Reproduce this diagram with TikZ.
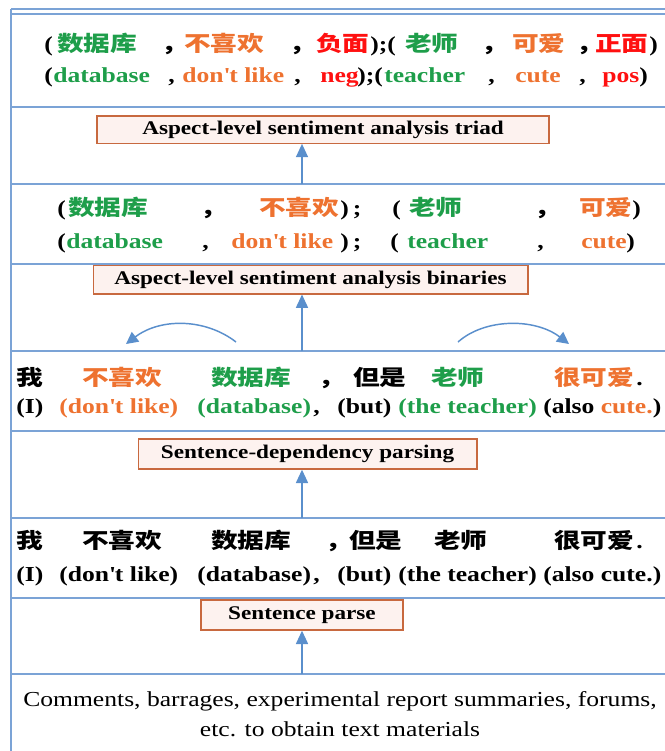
\documentclass[tikz,border=0pt]{standalone}
\usepackage{fontspec}
\setmainfont{Liberation Serif}[FakeStretch=1.2]
\newfontfamily\cjk{Noto Sans CJK SC}[FakeStretch=1.25]
\usetikzlibrary{arrows.meta}
\definecolor{gr}{HTML}{1E9E4A}
\definecolor{og}{HTML}{EE7230}
\definecolor{rd}{HTML}{FF1010}
\definecolor{ln}{HTML}{7BA3D6}
\definecolor{ar}{HTML}{5A8FCC}
\definecolor{bx}{HTML}{C8693F}
\definecolor{bxf}{HTML}{FDF2EF}
\newcommand\zh[1]{{\cjk\bfseries #1}}
\newcommand\dl{don\textquotesingle t like}
\begin{document}
\begin{tikzpicture}[x=0.75pt,y=-0.75pt,
  tx/.style={anchor=base west,inner sep=0pt,font=\fontsize{16}{18}\selectfont\bfseries},
  sep/.style={draw=ln,line width=1.3pt},
  lbl/.style={draw=bx,fill=bxf,line width=1pt,inner sep=0pt,font=\fontsize{14.5}{16}\selectfont\bfseries},
  arr/.style={draw=ar,line width=1.2pt,-{Triangle[length=10pt,width=9pt]}},
  carr/.style={draw=ar,line width=1.1pt,-{Triangle[length=9pt,width=9pt]}}]
\useasboundingbox (0,0) rectangle (665,751);
% frame
\draw[sep,line width=0.9pt] (11,9) -- (665,9);
\draw[sep] (11,14) -- (665,14);
\draw[sep] (11,9) -- (11,751);
\foreach \yy in {107,184,264,351,431,518,598,674} {\draw[sep] (11,\yy) -- (665,\yy);}
% boxes
\node[lbl,minimum width=339pt,minimum height=20.5pt] (tr) at (323,129.5) {Aspect-level sentiment analysis triad};
\node[lbl,minimum width=326pt,minimum height=21.5pt] (bi) at (310.5,279.5) {Aspect-level sentiment analysis binaries};
\node[lbl,minimum width=254pt,minimum height=22.5pt] (dp) at (307.5,454) {Sentence-dependency parsing};
\node[lbl,minimum width=151.5pt,minimum height=22.5pt] (sp) at (302,615) {Sentence parse};
% arrows
\coordinate (a1) at (302,184);
\coordinate (a2) at (302,351);
\coordinate (a3) at (302,518);
\coordinate (a4) at (302,674);
\draw[arr] (a1) -- (a1 |- tr.south);
\draw[arr] (a2) -- (a2 |- bi.south);
\draw[arr] (a3) -- (a3 |- dp.south);
\draw[arr] (a4) -- (a4 |- sp.south);
\coordinate (l1) at (236,342);
\coordinate (l2) at (126,344);
\coordinate (q1) at (458,342);
\coordinate (q2) at (569,344);
\draw[carr] (l1) .. controls (205,318) and (160,318) .. (l2);
\draw[carr] (q1) .. controls (485,318) and (535,318) .. (q2);
% row 1
\node[tx] (r1a) at (44,51) {(};
\node[tx,text=gr] (r1b) at (57,51) {\zh{数据库}};
\node[tx] (r1c) at (161,51) {\zh{，}};
\node[tx,text=og] (r1d) at (184,51) {\zh{不喜欢}};
\node[tx] (r1e) at (289,51) {\zh{，}};
\node[tx,text=rd] (r1f) at (316,51) {\zh{负面}};
\node[tx] (r1g) at (370,51) {);(};
\node[tx,text=gr] (r1h) at (405,51) {\zh{老师}};
\node[tx] (r1i) at (481,51) {\zh{，}};
\node[tx,text=og] (r1j) at (512,51) {\zh{可爱}};
\node[tx] (r1k) at (576,51) {\zh{，}};
\node[tx,text=rd] (r1l) at (595,51) {\zh{正面}};
\node[tx] (r1m) at (649,51) {)};
\node[tx] (r2a) at (44,82) {(};
\node[tx,text=gr] (r2b) at (53,82) {database};
\node[tx] (r2c) at (168,82) {,};
\node[tx,text=og] (r2d) at (182,82) {\dl};
\node[tx] (r2e) at (294,82) {,};
\node[tx,text=rd] (r2f) at (320,82) {neg};
\node[tx] (r2g) at (357,82) {);(};
\node[tx,text=gr] (r2h) at (384,82) {teacher};
\node[tx] (r2i) at (488,82) {,};
\node[tx,text=og] (r2j) at (515,82) {cute};
\node[tx] (r2k) at (579,82) {,};
\node[tx,text=rd] (r2l) at (602,82) {pos};
\node[tx] (r2m) at (639,82) {)};
% row 2
\node[tx] (s1a) at (57,215) {(};
\node[tx,text=gr] (s1b) at (68,215) {\zh{数据库}};
\node[tx] (s1c) at (200,215) {\zh{，}};
\node[tx,text=og] (s1d) at (259,215) {\zh{不喜欢}};
\node[tx] (s1e) at (340,215) {)\hspace{3pt};};
\node[tx] (s1f) at (392,215) {(};
\node[tx,text=gr] (s1g) at (409,215) {\zh{老师}};
\node[tx] (s1h) at (534,215) {\zh{，}};
\node[tx,text=og] (s1i) at (579,215) {\zh{可爱}};
\node[tx] (s1j) at (632,215) {)};
\node[tx] (s2a) at (57,248) {(};
\node[tx,text=gr] (s2b) at (66,248) {database};
\node[tx] (s2c) at (202,248) {,};
\node[tx,text=og] (s2d) at (231,248) {\dl};
\node[tx] (s2e) at (340,248) {)\hspace{3pt};};
\node[tx] (s2f) at (390,248) {(};
\node[tx,text=gr] (s2g) at (407,248) {teacher};
\node[tx] (s2h) at (537,248) {,};
\node[tx,text=og] (s2i) at (581,248) {cute};
\node[tx] (s2j) at (626,248) {)};
% row 3
\node[tx] (t1a) at (16,385) {\zh{我}};
\node[tx,text=og] (t1b) at (82,385) {\zh{不喜欢}};
\node[tx,text=gr] (t1c) at (211,385) {\zh{数据库}};
\node[tx] (t1d) at (318,385) {\zh{，}};
\node[tx] (t1e) at (353,385) {\zh{但是}};
\node[tx,text=gr] (t1f) at (431,385) {\zh{老师}};
\node[tx,text=og] (t1g) at (554,385) {\zh{很可爱}};
\node[tx] (t1h) at (636,385) {.};
\node[tx] (t2a) at (16,413) {(I)};
\node[tx,text=og] (t2b) at (59,413) {(\dl)};
\node[tx,text=gr] (t2c) at (197,413) {(database)};
\node[tx] (t2d) at (313,413) {,};
\node[tx] (t2e) at (337,413) {(but)};
\node[tx,text=gr] (t2f) at (398,413) {(the teacher)};
\node[tx] (t2g) at (543,413) {(also \textcolor{og}{cute.})};
% row 4
\node[tx] (u1a) at (16,548) {\zh{我}};
\node[tx] (u1b) at (82,548) {\zh{不喜欢}};
\node[tx] (u1c) at (211,548) {\zh{数据库}};
\node[tx] (u1d) at (325,548) {\zh{，}};
\node[tx] (u1e) at (349,548) {\zh{但是}};
\node[tx] (u1f) at (434,548) {\zh{老师}};
\node[tx] (u1g) at (554,548) {\zh{很可爱}};
\node[tx] (u1h) at (636,548) {.};
\node[tx] (u2a) at (16,581) {(I)};
\node[tx] (u2b) at (59,581) {(\dl)};
\node[tx] (u2c) at (197,581) {(database)};
\node[tx] (u2d) at (313,581) {,};
\node[tx] (u2e) at (337,581) {(but)};
\node[tx] (u2f) at (398,581) {(the teacher)};
\node[tx] (u2g) at (543,581) {(also cute.)};
% bottom
\node[align=center,inner sep=0pt,font=\fontsize{16}{22.5}\selectfont] (src) at (340,714)
  {Comments, barrages, experimental report summaries, forums,\\etc. to obtain text materials};
\end{tikzpicture}
\end{document}
